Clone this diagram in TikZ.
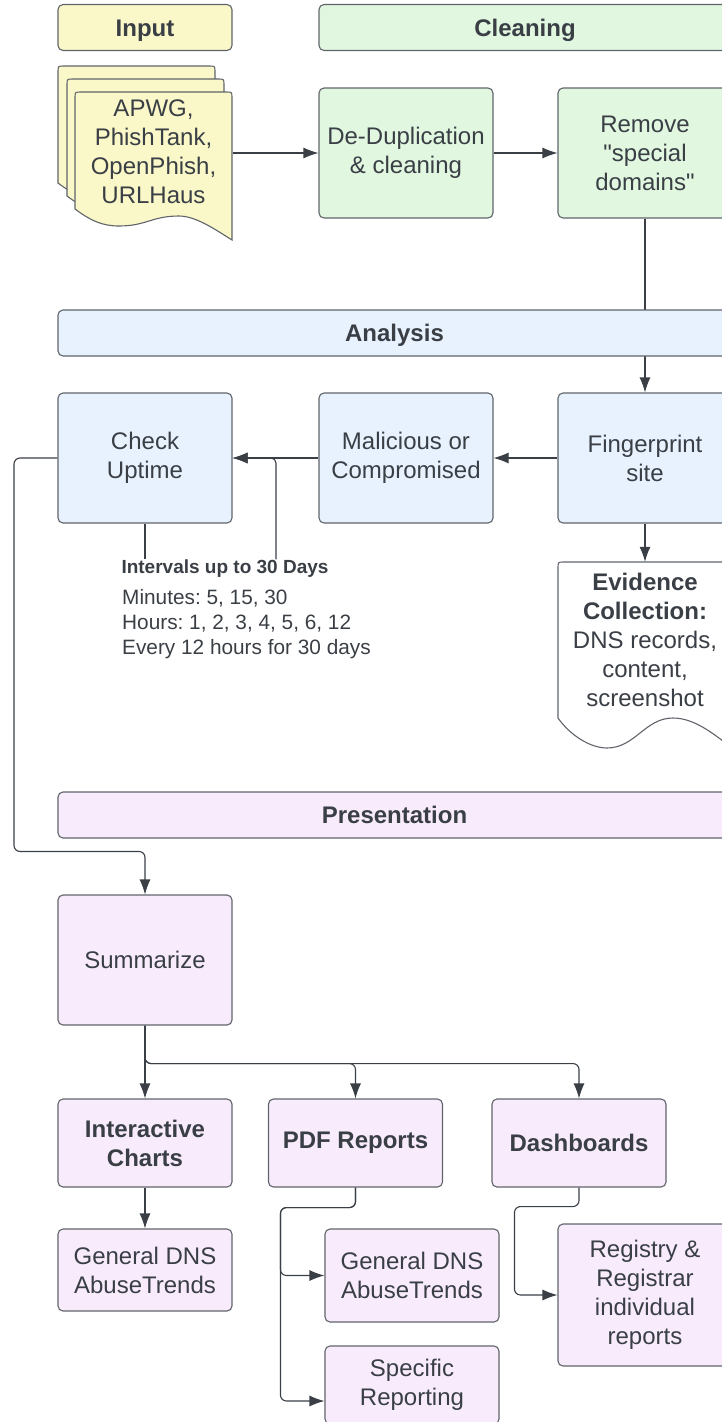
\documentclass[tikz,border=0pt]{standalone}
\usepackage{fontspec}
\setmainfont{Liberation Sans}
\usetikzlibrary{arrows.meta, math}
\definecolor{inyellow}{RGB}{250,248,200}
\definecolor{clgreen}{RGB}{225,247,224}
\definecolor{anblue}{RGB}{232,242,254}
\definecolor{prpurple}{RGB}{248,236,252}
\definecolor{edgegray}{RGB}{96,100,106}
\definecolor{inkgray}{RGB}{58,63,70}
\frenchspacing

\begin{document}
\begin{tikzpicture}[x=1pt, y=-1pt,
box/.style={draw=edgegray, line width=1.1pt, rounded corners=5pt, minimum width=174pt, minimum height=130pt, align=center, text=inkgray, inner sep=2pt, font=\fontsize{24}{29}\selectfont},
strong/.style={font=\fontsize{24}{29}\selectfont\bfseries},
bar/.style={box, strong, minimum height=46pt, text height=17.2pt, text depth=0pt},
page/.style={draw=edgegray, line width=1.1pt, fill=inyellow},
link/.style={draw=inkgray, line width=1.1pt},
arr/.style={link, -{Latex[length=15pt, width=11pt]}},
note/.style={text=inkgray, inner sep=0pt}
]
\tikzmath{
\xa=145;
\xb=406;
\xc=645;
\ya=153;
\yb=458;
}
\useasboundingbox (0,0) rectangle (722,1422);
\clip (0,0) rectangle (722,1422);

%input pages
\filldraw[page, shift={(-17,-26)}] (75,209) -- (75,98) .. controls (75,92) .. (81,92) -- (226,92) .. controls (232,92) .. (232,98) -- (232,240) .. controls (216,230) and (196,216) .. (179,216) .. controls (152,216) and (146,226) .. (119,226) .. controls (103,226) and (91,221) .. (75,209) -- cycle;
\filldraw[page, shift={(-8,-13)}] (75,209) -- (75,98) .. controls (75,92) .. (81,92) -- (226,92) .. controls (232,92) .. (232,98) -- (232,240) .. controls (216,230) and (196,216) .. (179,216) .. controls (152,216) and (146,226) .. (119,226) .. controls (103,226) and (91,221) .. (75,209) -- cycle;
\filldraw[page] (75,209) -- (75,98) .. controls (75,92) .. (81,92) -- (226,92) .. controls (232,92) .. (232,98) -- (232,240) .. controls (216,230) and (196,216) .. (179,216) .. controls (152,216) and (146,226) .. (119,226) .. controls (103,226) and (91,221) .. (75,209) -- cycle;
\node[box, draw=none, minimum width=157pt, minimum height=118pt] (input) at (153.5,152) {APWG,\\PhishTank,\\OpenPhish,\\URLHaus};

%cleaning
\node[box, fill=clgreen] (dedup) at (\xb,\ya) {De-Duplication\\\& cleaning};
\node[box, fill=clgreen] (remove) at (\xc,\ya) {Remove\\\textquotedbl special\\domains\textquotedbl};

%analysis
\node[box, fill=anblue] (finger) at (\xc,\yb) {Fingerprint\\site};
\node[box, fill=anblue] (malicious) at (\xb,\yb) {Malicious or\\Compromised};
\node[box, fill=anblue] (uptime) at (\xa,\yb) {Check\\Uptime};
\node[note, font=\fontsize{19}{23}\selectfont\bfseries] (intervals) at (225,568.5) {Intervals up to 30 Days};
\node[note, anchor=north west, align=left, font=\fontsize{20.8}{25}\selectfont] (schedule) at (122,589) {Minutes: 5, 15, 30\\Hours: 1, 2, 3, 4, 5, 6, 12\\Every 12 hours for 30 days};

%evidence
\filldraw[draw=edgegray, line width=1.1pt, fill=white] (558,718) -- (558,568) .. controls (558,562) .. (564,562) -- (726,562) .. controls (732,562) .. (732,568) -- (732,748) .. controls (715,735) and (695,718) .. (673,718) .. controls (645,718) and (635,748) .. (607,748) .. controls (590,748) and (570,735) .. (558,718) -- cycle;
\node[note, minimum width=174pt, minimum height=156pt, align=center, font=\fontsize{24}{29}\selectfont] (evidence) at (\xc,640) {\textbf{Evidence}\\\textbf{Collection:}\\DNS records,\\content,\\screenshot};

%presentation
\node[box, fill=prpurple] (summarize) at (\xa,960) {Summarize};
\node[box, strong, fill=prpurple, minimum height=88pt] (charts) at (\xa,1143) {Interactive\\Charts};
\node[box, strong, fill=prpurple, minimum height=88pt] (pdf) at (355.5,1143) {PDF Reports};
\node[box, strong, fill=prpurple, minimum height=88pt] (dash) at (579,1143) {Dashboards};
\node[box, fill=prpurple, minimum height=82pt] (trends) at (\xa,1270) {General DNS\\AbuseTrends};
\node[box, fill=prpurple, minimum height=93pt] (pdftrends) at (412,1275.5) {General DNS\\AbuseTrends};
\node[box, fill=prpurple, minimum height=78pt] (specific) at (412,1385) {Specific\\Reporting};
\node[box, fill=prpurple, minimum height=142pt] (registry) at (\xc,1295) {Registry \&\\Registrar\\individual\\reports};

%connectors
\draw[arr] (input.east |- dedup) -- (dedup);
\draw[arr] (dedup) -- (remove);
\draw[arr] (remove) -- (finger);
\draw[arr] (finger) -- (malicious);
\draw[arr] (malicious) -- (uptime);
\draw[link] (uptime) -- (uptime.south |- intervals.north);
\draw[arr, rounded corners=5pt] ([xshift=51pt]intervals.north) |- (uptime.east);
\draw[arr] (finger) -- (evidence);
\draw[arr, rounded corners=6pt] (uptime.west) -- (14,\yb) |- ([yshift=43pt]summarize.north) -- (summarize.north);
\draw[arr] (summarize) -- (charts);
\draw[arr, rounded corners=6pt] (summarize.south) -- ++(0,38) -| (pdf.north);
\draw[arr, rounded corners=6pt] (summarize.south) -- ++(0,38) -| (dash.north);
\draw[arr] (charts) -- (trends);
\draw[arr, rounded corners=6pt] (pdf.south) -- ++(0,20) -| ([xshift=-44pt]pdftrends.west) -- (pdftrends.west);
\draw[arr, rounded corners=6pt] (pdf.south) -- ++(0,20) -| ([xshift=-44pt, yshift=-16pt]specific.west) -- ([yshift=-16pt]specific.west);
\draw[arr, rounded corners=6pt] (dash.south) -- ++(0,19) -| ([xshift=-43pt]registry.west) -- (registry.west);

%headers
\node[bar, fill=inyellow] (hinput) at (\xa,27.5) {Input};
\node[bar, fill=clgreen, minimum width=412pt] (hclean) at (525,27.5) {Cleaning};
\node[bar, fill=anblue, minimum width=673pt] (hanalysis) at (394.5,333) {Analysis};
\node[bar, fill=prpurple, minimum width=673pt] (hpresent) at (394.5,815) {Presentation};
\end{tikzpicture}
\end{document}
